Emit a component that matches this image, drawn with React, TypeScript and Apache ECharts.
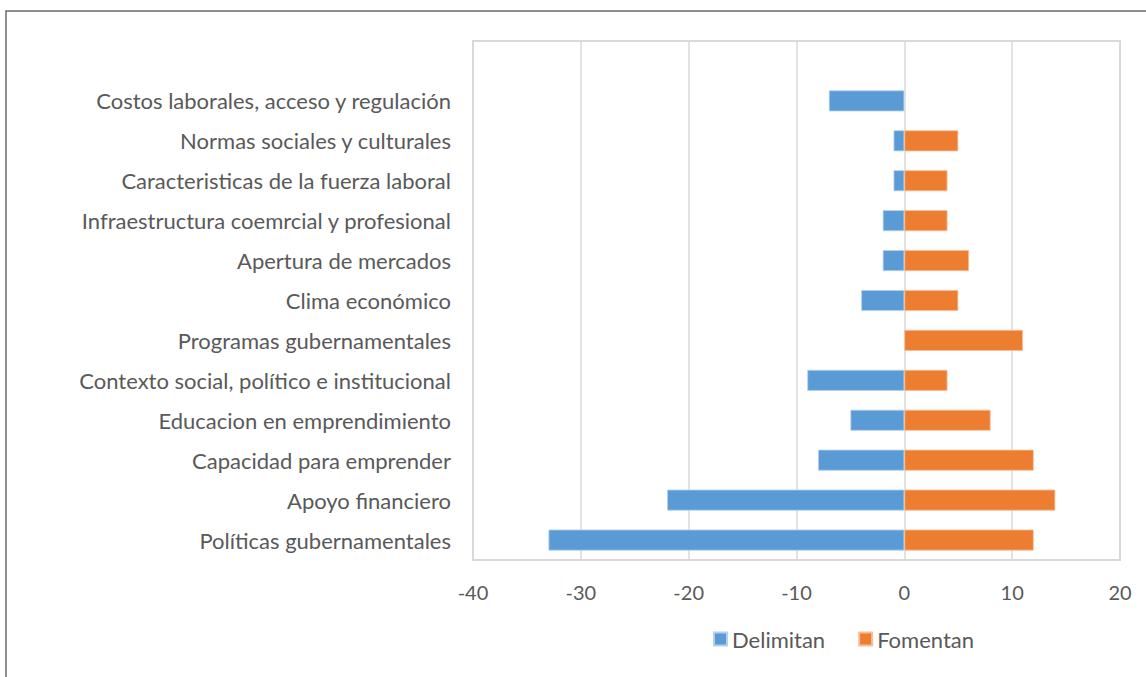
import React, { useEffect, useRef } from "react";
import * as echarts from "echarts";

const categories = [
  "Políticas gubernamentales",
  "Apoyo financiero",
  "Capacidad para emprender",
  "Educacion en emprendimiento",
  "Contexto social, político e institucional",
  "Programas gubernamentales",
  "Clima económico",
  "Apertura de mercados",
  "Infraestructura coemrcial y profesional",
  "Caracteristicas de la fuerza laboral",
  "Normas sociales y culturales",
  "Costos laborales, acceso y regulación",
  "",
];
const delimitan = [-33, -22, -8, -5, -9, null, -4, -2, -2, -1, -1, -7, null];
const fomentan = [12, 14, 12, 8, 4, 11, 5, 6, 4, 4, 5, null, null];
const xMin = -40;
const xMax = 20;
const xInterval = 10;

const FONT = "Lato, 'Open Sans', sans-serif";
const TEXT = "#595959";

export default function App() {
  const ref = useRef<HTMLDivElement>(null);
  useEffect(() => {
    const chart = echarts.init(ref.current!, null, { renderer: "svg" });
    chart.setOption({
      animation: false,
      backgroundColor: "#ffffff",
      textStyle: { fontFamily: FONT },
      graphic: [
        {
          type: "rect",
          shape: { x: 6, y: 11, width: 1200, height: 700 },
          style: { fill: "none", stroke: "#6b6b6b", lineWidth: 1.5 },
          silent: true,
        },
      ],
      legend: {
        top: 623,
        left: 708,
        itemWidth: 13,
        itemHeight: 13,
        itemGap: 33,
        icon: "rect",
        textStyle: { color: TEXT, fontSize: 22, fontFamily: FONT },
        data: ["Delimitan", "Fomentan"],
      },
      grid: {
        left: 473,
        top: 41,
        right: 26,
        bottom: 117,
        containLabel: false,
        show: true,
        borderColor: "#d9d9d9",
        borderWidth: 2,
      },
      xAxis: {
        type: "value",
        min: xMin,
        max: xMax,
        interval: xInterval,
        axisLine: { show: false },
        axisTick: { show: false },
        splitLine: { show: true, lineStyle: { color: "#d9d9d9", width: 1.5 } },
        axisLabel: { color: TEXT, fontSize: 20, margin: 22, fontFamily: FONT },
      },
      yAxis: {
        type: "category",
        data: categories,
        axisLine: { show: false },
        axisTick: { show: false },
        splitLine: { show: false },
        axisLabel: { color: TEXT, fontSize: 22, margin: 22, fontFamily: FONT },
      },
      series: [
        {
          name: "Delimitan",
          type: "bar",
          stack: "s",
          data: delimitan,
          barWidth: 21,
          itemStyle: { color: "#5B9BD5", borderColor: "#b4d0ec", borderWidth: 0.8 },
        },
        {
          name: "Fomentan",
          type: "bar",
          stack: "s",
          data: fomentan,
          barWidth: 21,
          itemStyle: { color: "#ED7D31", borderColor: "#f6bf9a", borderWidth: 0.8 },
        },
      ],
    });
    return () => chart.dispose();
  }, []);
  return (
    <div
      ref={ref}
      style={{ position: "fixed", left: 0, top: 0, width: 1146, height: 677 }}
    />
  );
}
